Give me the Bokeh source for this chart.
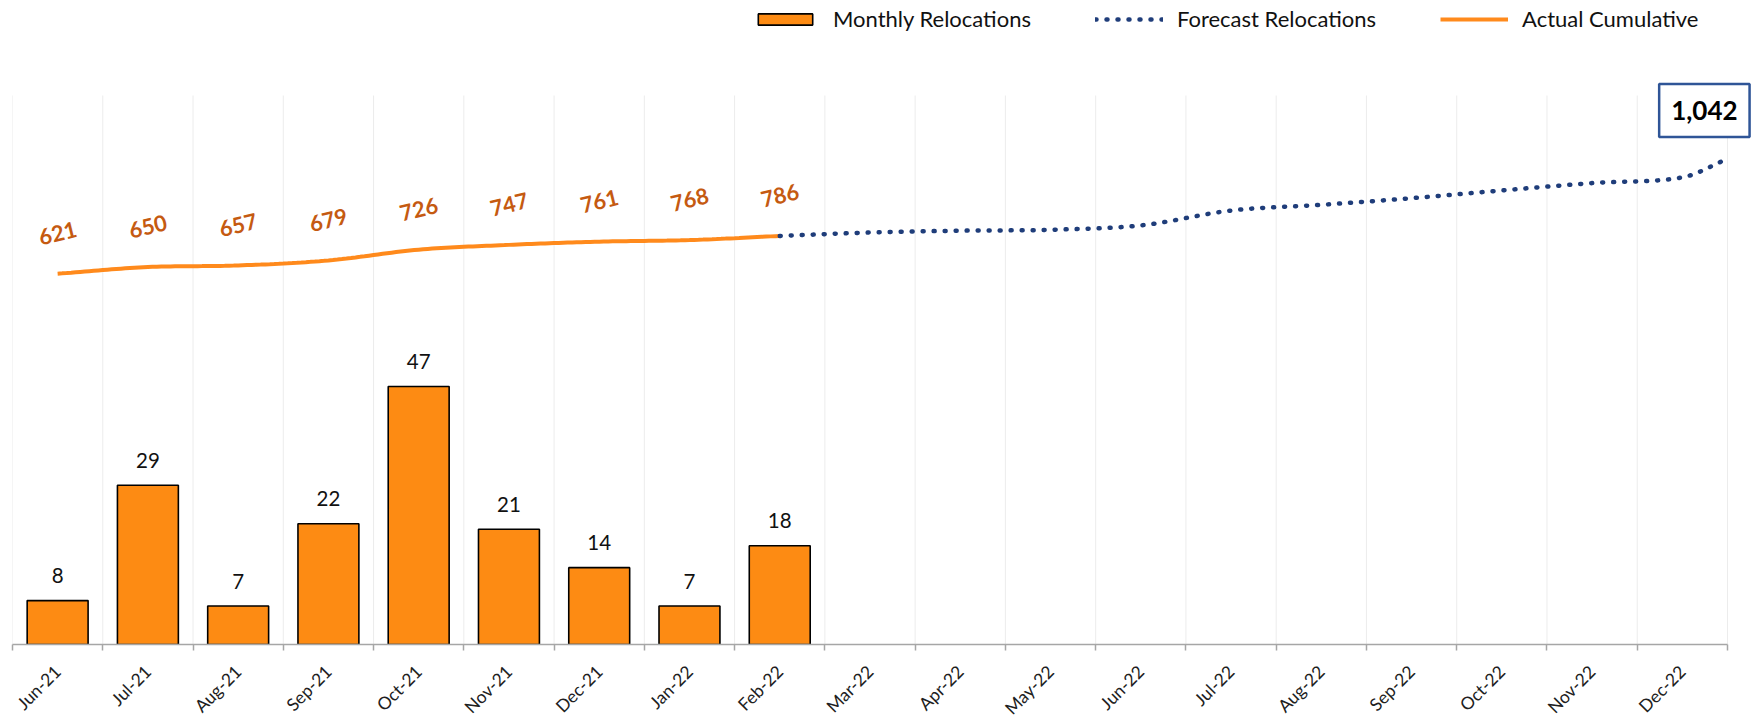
import math
from bokeh.plotting import figure
from bokeh.models import Range1d, FixedTicker, Legend, LegendItem, Label
from bokeh.core.properties import value
from bokeh.embed import file_html
from bokeh.resources import INLINE

# ---------------- data ----------------
months = ["Jun-21", "Jul-21", "Aug-21", "Sep-21", "Oct-21", "Nov-21", "Dec-21",
          "Jan-22", "Feb-22", "Mar-22", "Apr-22", "May-22", "Jun-22", "Jul-22",
          "Aug-22", "Sep-22", "Oct-22", "Nov-22", "Dec-22"]
actual_months = ["Jun-21", "Jul-21", "Aug-21", "Sep-21", "Oct-21", "Nov-21",
                 "Dec-21", "Jan-22", "Feb-22"]
monthly_relocations = [8, 29, 7, 22, 47, 21, 14, 7, 18]
actual_cumulative = [621, 650, 657, 679, 726, 747, 761, 768, 786]
forecast_months = ["Feb-22", "Mar-22", "Apr-22", "May-22", "Jun-22", "Jul-22",
                   "Aug-22", "Sep-22", "Oct-22", "Nov-22", "Dec-22"]
forecast_relocations = [786, 801, 809, 813, 832, 897, 922, 951, 985, 1017, 1042]
forecast_year_end = 1123          # value reached at the very end of Dec-22
forecast_callout = "1,042"
monthly_axis = (0, 100)
cumulative_axis = (-1000, 1400)

# ---------------- layout (pixels) ----------------
PLOT_W = 1715        # width of the month axis
PLOT_H = 549         # height of the value axes
FRAME_W = 1740       # drawing area incl. room for the call-out on the right
FRAME_H = 644        # drawing area incl. room for the legend on top


def smooth(xs, ys, steps=20):
    """Cubic Hermite curve through the given points (Excel-like smoothing)."""
    n = len(xs)
    m = []
    for i in range(n):
        if i == 0:
            m.append((ys[1] - ys[0]) / (xs[1] - xs[0]))
        elif i == n - 1:
            m.append((ys[-1] - ys[-2]) / (xs[-1] - xs[-2]))
        else:
            m.append((ys[i + 1] - ys[i - 1]) / (xs[i + 1] - xs[i - 1]))
    ox, oy = [], []
    for i in range(n - 1):
        h = xs[i + 1] - xs[i]
        for s in range(steps):
            t = s / steps
            h00 = 2 * t**3 - 3 * t**2 + 1
            h10 = t**3 - 2 * t**2 + t
            h01 = -2 * t**3 + 3 * t**2
            h11 = t**3 - t**2
            ox.append(xs[i] + t * h)
            oy.append(h00 * ys[i] + h10 * h * m[i] + h01 * ys[i + 1] + h11 * h * m[i + 1])
    ox.append(xs[-1]); oy.append(ys[-1])
    return ox, oy


def extend(rng, frac):
    lo, hi = rng
    return (lo, lo + (hi - lo) * frac)


idx = {m: i for i, m in enumerate(months)}
n_months = len(months)
bar_x = [idx[m] for m in actual_months]
fc_x = [idx[m] for m in forecast_months] + [idx[forecast_months[-1]] + 0.5]
fc_y = forecast_relocations + [forecast_year_end]
bounds_x = [i - 0.5 for i in range(n_months + 1)]

FONT = "Lato"
ORANGE = "#FD8B13"
NAVY = "#1F3D7A"

x_end = -0.5 + n_months * FRAME_W / PLOT_W
p = figure(frame_width=FRAME_W, frame_height=FRAME_H,
           x_range=Range1d(-0.5, x_end),
           y_range=Range1d(*extend(monthly_axis, FRAME_H / PLOT_H)),
           y_axis_location=None,
           output_backend="svg", toolbar_location=None,
           min_border_left=12, min_border_right=0, min_border_top=0,
           min_border_bottom=40)
p.extra_y_ranges = {"cum": Range1d(*extend(cumulative_axis, FRAME_H / PLOT_H))}
p.outline_line_color = None
p.xgrid.visible = False
p.ygrid.visible = False
p.background_fill_color = "white"
p.border_fill_color = "white"

xa = p.xaxis[0]
xa.bounds = (-0.5, n_months - 0.5)
xa.ticker = FixedTicker(ticks=list(range(n_months)), minor_ticks=bounds_x)
xa.major_label_overrides = {i: m for i, m in enumerate(months)}
xa.major_tick_line_color = None
xa.major_tick_in = 0
xa.major_tick_out = 0
xa.minor_tick_in = 0
xa.minor_tick_out = 6
xa.minor_tick_line_color = "#A6A6A6"
xa.minor_tick_line_width = 1.5
xa.axis_line_color = "#A6A6A6"
xa.axis_line_width = 1.5
xa.major_label_orientation = math.pi / 4
xa.major_label_text_font = FONT
xa.major_label_text_font_size = "17.5px"
xa.major_label_text_color = "#202020"
xa.major_label_standoff = 18

# vertical grid lines between months, spanning the value axes only
p.segment(x0=bounds_x, y0=[monthly_axis[0]] * len(bounds_x),
          x1=bounds_x, y1=[monthly_axis[1]] * len(bounds_x),
          line_color="#ECECEC", line_width=1, level="underlay")

bars = p.vbar(x=bar_x, top=monthly_relocations, width=0.675,
              fill_color=ORANGE, line_color="black", line_width=1.6)
p.text(x=bar_x, y=monthly_relocations, text=[str(v) for v in monthly_relocations],
       y_offset=-25, text_align="center", text_baseline="middle",
       text_font=value(FONT), text_font_size="20.5px", text_color="#111111")

cx, cy = smooth(bar_x, actual_cumulative)
cum_line = p.line(cx, cy, y_range_name="cum", line_color="#FF8A1C", line_width=4)

fx, fy = smooth(fc_x, fc_y)
fc_line = p.line(fx, fy, y_range_name="cum", line_color=NAVY, line_width=4.5,
                 line_dash="1 10", line_cap="round")

p.text(x=bar_x, y=actual_cumulative, text=[str(v) for v in actual_cumulative],
       y_range_name="cum", y_offset=-41, angle=0.24,
       text_align="center", text_baseline="middle",
       text_font=value(FONT), text_font_size="22px", text_font_style="bold",
       text_color="#C55A11")

callout = Label(x=idx[forecast_months[-1]], y=forecast_relocations[-1],
                y_range_name="cum", x_offset=22, y_offset=67,
                text=forecast_callout, text_align="center", text_baseline="middle",
                text_font=FONT, text_font_size="26px", text_font_style="bold",
                text_color="black", background_fill_color="white",
                border_line_color="#2F5597", border_line_width=2.5,
                padding=dict(left=12, right=12, top=17, bottom=17))
p.add_layout(callout)

legend = Legend(items=[LegendItem(label="Monthly Relocations", renderers=[bars]),
                       LegendItem(label="Forecast Relocations", renderers=[fc_line]),
                       LegendItem(label="Actual Cumulative", renderers=[cum_line])],
                orientation="horizontal", location=(739, 612),
                glyph_width=68, glyph_height=14, label_standoff=14, spacing=64,
                padding=0, margin=0, border_line_color=None,
                background_fill_alpha=0,
                label_text_font=FONT, label_text_font_size="22px",
                label_text_color="#111111")
p.add_layout(legend, "center")

open("out.html", "w").write(file_html(p, INLINE))
